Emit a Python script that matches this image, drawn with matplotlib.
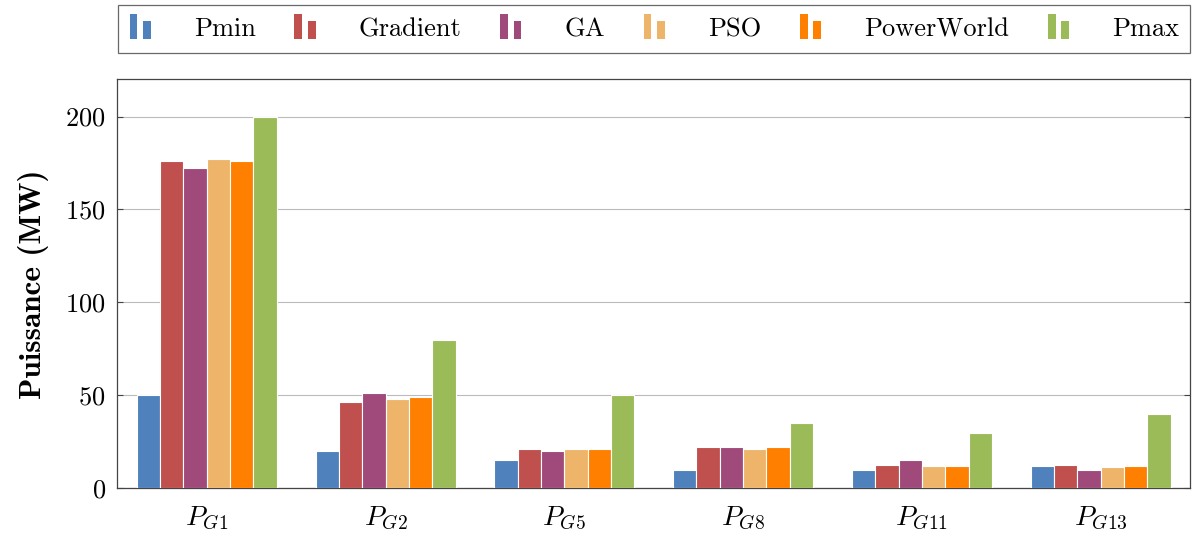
import numpy as np
import matplotlib
matplotlib.use('Agg')
import matplotlib.pyplot as plt
import matplotlib.patches as patches
from matplotlib.legend_handler import HandlerBase

generators = ['$P_{G1}$', '$P_{G2}$', '$P_{G5}$', '$P_{G8}$', '$P_{G11}$', '$P_{G13}$']
series = ['Pmin', 'Gradient', 'GA', 'PSO', 'PowerWorld', 'Pmax']
pmin = [50, 20, 15, 10, 10, 12]
gradient = [176.3, 46.2, 21, 22, 12.6, 12.6]
ga = [172.2, 51, 20, 22, 15, 10]
pso = [177.1, 47.8, 21, 21, 11.8, 11.3]
powerworld = [176.3, 48.9, 21, 22, 11.8, 12]
pmax = [200, 80, 50, 35, 30, 40]
colors = ['#4F81BD', '#C0504D', '#9F4A7A', '#EEB56A', '#FF8000', '#9BBB59']

plt.rcParams['font.family'] = 'cmr10'
plt.rcParams['mathtext.fontset'] = 'cm'
plt.rcParams['axes.formatter.use_mathtext'] = True


class BarPairHandler(HandlerBase):
    # pgfplots-style ybar legend glyph: two small bars side by side
    def create_artists(self, legend, orig_handle, xdescent, ydescent,
                       width, height, fontsize, trans):
        c = orig_handle.get_facecolor()
        w = width * 0.3
        r1 = patches.Rectangle((-xdescent, -ydescent - height * 0.05), w, height * 1.15,
                               facecolor=c, edgecolor='none', transform=trans)
        r2 = patches.Rectangle((-xdescent + w * 1.7, -ydescent - height * 0.05), w, height * 0.85,
                               facecolor=c, edgecolor='none', transform=trans)
        return [r1, r2]


fig = plt.figure(figsize=(11.92, 5.36), dpi=100)
ax = fig.add_axes([0.098, 0.089, 0.9, 0.763])

data = [pmin, gradient, ga, pso, powerworld, pmax]
x = np.arange(len(generators))
bw = 0.1305
handles = []
for i, (vals, col) in enumerate(zip(data, colors)):
    h = ax.bar(x + (i - 2.5) * bw, vals, width=bw, color=col,
               edgecolor='white', linewidth=0.8, zorder=3, label=series[i])
    handles.append(h.patches[0])

ax.set_xlim(-0.503, 5.497)
ax.set_ylim(0, 220)
ax.set_yticks([0, 50, 100, 150, 200])
ax.set_xticks(x)
ax.set_xticklabels(generators, fontsize=20)
ax.tick_params(axis='x', length=0, pad=12)
ax.tick_params(axis='y', direction='in', length=4, labelsize=19, right=True,
               color='#444444', width=0.8, pad=8)
ax.grid(axis='y', color='#bbbbbb', linewidth=0.8, zorder=0)
for s in ax.spines.values():
    s.set_color('#444444')
    s.set_linewidth(0.9)
ax.set_ylabel('Puissance (MW)', fontname='cmb10', fontsize=22.5, labelpad=12)

leg = fig.legend(handles, series, loc='upper center', ncol=6,
                 bbox_to_anchor=(0.549, 0.990),
                 handler_map={patches.Rectangle: BarPairHandler()},
                 fontsize=19, frameon=True, fancybox=False, edgecolor='#444444',
                 handlelength=1.0, handleheight=0.9, borderaxespad=0.0,
                 borderpad=0.42, handletextpad=1.45, columnspacing=1.45)
leg.get_frame().set_linewidth(0.9)

fig.savefig('out.png', dpi=100)
